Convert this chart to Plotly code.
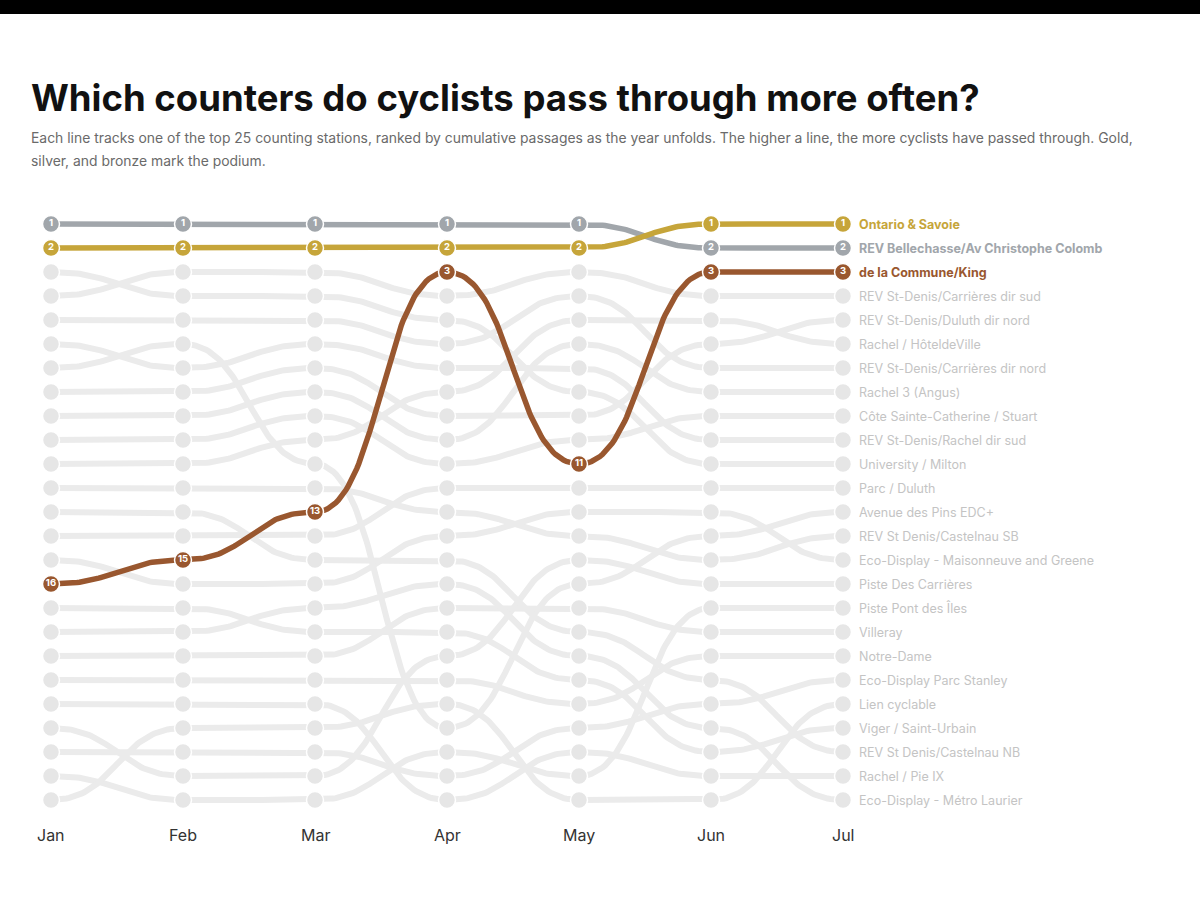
import plotly.graph_objects as go
import numpy as np

months = ["Jan", "Feb", "Mar", "Apr", "May", "Jun", "Jul"]

stations = [
    "Ontario & Savoie", "REV Bellechasse/Av Christophe Colomb", "de la Commune/King",
    "REV St-Denis/Carrières dir sud", "REV St-Denis/Duluth dir nord", "Rachel / HôteldeVille",
    "REV St-Denis/Carrières dir nord", "Rachel 3 (Angus)", "Côte Sainte-Catherine / Stuart",
    "REV St-Denis/Rachel dir sud", "University / Milton", "Parc / Duluth",
    "Avenue des Pins EDC+", "REV St Denis/Castelnau SB", "Eco-Display - Maisonneuve and Greene",
    "Piste Des Carrières", "Piste Pont des Îles", "Villeray", "Notre-Dame",
    "Eco-Display Parc Stanley", "Lien cyclable", "Viger / Saint-Urbain",
    "REV St Denis/Castelnau NB", "Rachel / Pie IX", "Eco-Display - Métro Laurier",
]

rank_jan = [2, 1, 16, 4, 8, 11, 5, 9, 10, 6, 3, 14, 7, 12, 15, 22, 24, 19, 20, 23, 25, 17, 13, 21, 18]
rank_feb = [2, 1, 15, 3, 8, 11, 5, 9, 10, 7, 4, 14, 6, 12, 16, 24, 25, 19, 20, 23, 22, 17, 13, 21, 18]
rank_mar = [2, 1, 13, 3, 7, 10, 5, 8, 9, 6, 4, 14, 11, 12, 16, 24, 25, 19, 20, 23, 22, 18, 15, 21, 17]
rank_apr = [2, 1, 3, 4, 9, 8, 6, 10, 11, 7, 5, 12, 22, 13, 14, 19, 23, 17, 20, 24, 21, 18, 15, 25, 16]
rank_may = [2, 1, 11, 3, 9, 5, 4, 6, 10, 7, 8, 12, 16, 14, 13, 15, 24, 17, 21, 22, 25, 20, 18, 23, 19]
rank_jun = [1, 2, 3, 4, 6, 5, 7, 8, 9, 10, 11, 12, 14, 15, 13, 16, 17, 18, 19, 21, 25, 23, 20, 24, 22]
rank_jul = [1, 2, 3, 4, 5, 6, 7, 8, 9, 10, 11, 12, 13, 14, 15, 16, 17, 18, 19, 20, 21, 22, 23, 24, 25]

all_ranks = [rank_jan, rank_feb, rank_mar, rank_apr, rank_may, rank_jun, rank_jul]

title_text = "Which counters do cyclists pass through more often?"
subtitle_lines = [
    "Each line tracks one of the top 25 counting stations, ranked by cumulative passages as the year unfolds. The higher a line, the more cyclists have passed through. Gold,",
    "silver, and bronze mark the podium.",
]

GOLD = "#c6a53a"
SILVER = "#a1a6ab"
BRONZE = "#99572f"
GRAY_LINE = "#ebebeb"
GRAY_DOT = "#e6e6e6"
GRAY_TEXT = "#c4c4c4"
podium = {1: GOLD, 2: SILVER, 3: BRONZE}

xs = list(range(len(months)))


def bump_path(ranks):
    """curveBumpX-like path between consecutive months (horizontal tangents)."""
    px, py = [], []
    t = np.linspace(0, 1, 60)
    for i in range(len(ranks) - 1):
        x0, x1 = xs[i], xs[i + 1]
        y0, y1 = ranks[i], ranks[i + 1]
        xm = (x0 + x1) / 2
        bx = (1 - t) ** 3 * x0 + 3 * (1 - t) ** 2 * t * xm + 3 * (1 - t) * t ** 2 * xm + t ** 3 * x1
        by = (1 - t) ** 3 * y0 + 3 * (1 - t) ** 2 * t * y0 + 3 * (1 - t) * t ** 2 * y1 + t ** 3 * y1
        px.extend(bx.tolist())
        py.extend(by.tolist())
    return px, py


fig = go.Figure()

# gray lines
gx, gy = [], []
for s in range(len(stations)):
    traj = [all_ranks[m][s] for m in range(len(months))]
    if traj[-1] in podium:
        continue
    px, py = bump_path(traj)
    gx += px + [None]
    gy += py + [None]
fig.add_trace(go.Scatter(x=gx, y=gy, mode="lines", line=dict(color=GRAY_LINE, width=6),
                         hoverinfo="skip", showlegend=False))

# gray dots
dx, dy = [], []
for s in range(len(stations)):
    traj = [all_ranks[m][s] for m in range(len(months))]
    if traj[-1] in podium:
        continue
    dx += xs
    dy += traj
fig.add_trace(go.Scatter(x=dx, y=dy, mode="markers",
                         marker=dict(size=17, color=GRAY_DOT, line=dict(color="white", width=1.5)),
                         hoverinfo="skip", showlegend=False))

# podium lines and dots (bronze first, gold on top)
for final in [3, 2, 1]:
    s = rank_jul.index(final)
    traj = [all_ranks[m][s] for m in range(len(months))]
    px, py = bump_path(traj)
    col = podium[final]
    fig.add_trace(go.Scatter(x=px, y=py, mode="lines", line=dict(color=col, width=5.5),
                             hoverinfo="skip", showlegend=False))
    fig.add_trace(go.Scatter(x=xs, y=traj, mode="markers+text",
                             marker=dict(size=17, color=col, line=dict(color="white", width=1.5)),
                             text=[str(v) for v in traj], textposition="middle center",
                             textfont=dict(family="Inter", size=9.5, color="white", weight=700),
                             name=stations[s], showlegend=False))

# right-side labels
for s, name in enumerate(stations):
    r = rank_jul[s]
    if r in podium:
        fig.add_annotation(x=xs[-1], y=r, text=name, xanchor="left", yanchor="middle",
                           xshift=14, showarrow=False,
                           font=dict(family="Inter", size=12.5, color=podium[r], weight=700))
    else:
        fig.add_annotation(x=xs[-1], y=r, text=name, xanchor="left", yanchor="middle",
                           xshift=14, showarrow=False,
                           font=dict(family="Inter", size=12.5, color=GRAY_TEXT))

# month labels
for i, m in enumerate(months):
    fig.add_annotation(x=xs[i], y=26.46, text=m, showarrow=False, xanchor="center", yanchor="middle",
                       font=dict(family="Inter", size=16, color="#333333"))

# title & subtitle
fig.add_annotation(xref="paper", yref="paper", x=29 / 1200, y=1 - 98 / 900, text="<b>" + title_text + "</b>",
                   showarrow=False, xanchor="left", yanchor="middle",
                   font=dict(family="Inter", size=36.5, color="#111111"))
for k, line in enumerate(subtitle_lines):
    fig.add_annotation(xref="paper", yref="paper", x=29 / 1200, y=1 - (138 + 23 * k) / 900,
                       text=line, showarrow=False, xanchor="left", yanchor="middle", align="left",
                       font=dict(family="Inter", size=13.9, color="#6a6a6a"))

# top black band
fig.add_shape(type="rect", xref="paper", yref="paper", x0=0, x1=1, y0=1 - 14 / 900, y1=1,
              fillcolor="black", line=dict(width=0), layer="above")

px_per_month = 132.0
xmin = -51 / px_per_month
xmax = xmin + 1200 / px_per_month
px_per_rank = 24.0
ytop = 1 - 224 / px_per_rank
ybot = ytop + 900 / px_per_rank

fig.update_layout(
    width=1200, height=900,
    margin=dict(l=0, r=0, t=0, b=0),
    paper_bgcolor="white", plot_bgcolor="white",
    xaxis=dict(range=[xmin, xmax], visible=False, fixedrange=True),
    yaxis=dict(range=[ybot, ytop], visible=False, fixedrange=True),
    font=dict(family="Inter"),
)

fig.write_html("out.html")
